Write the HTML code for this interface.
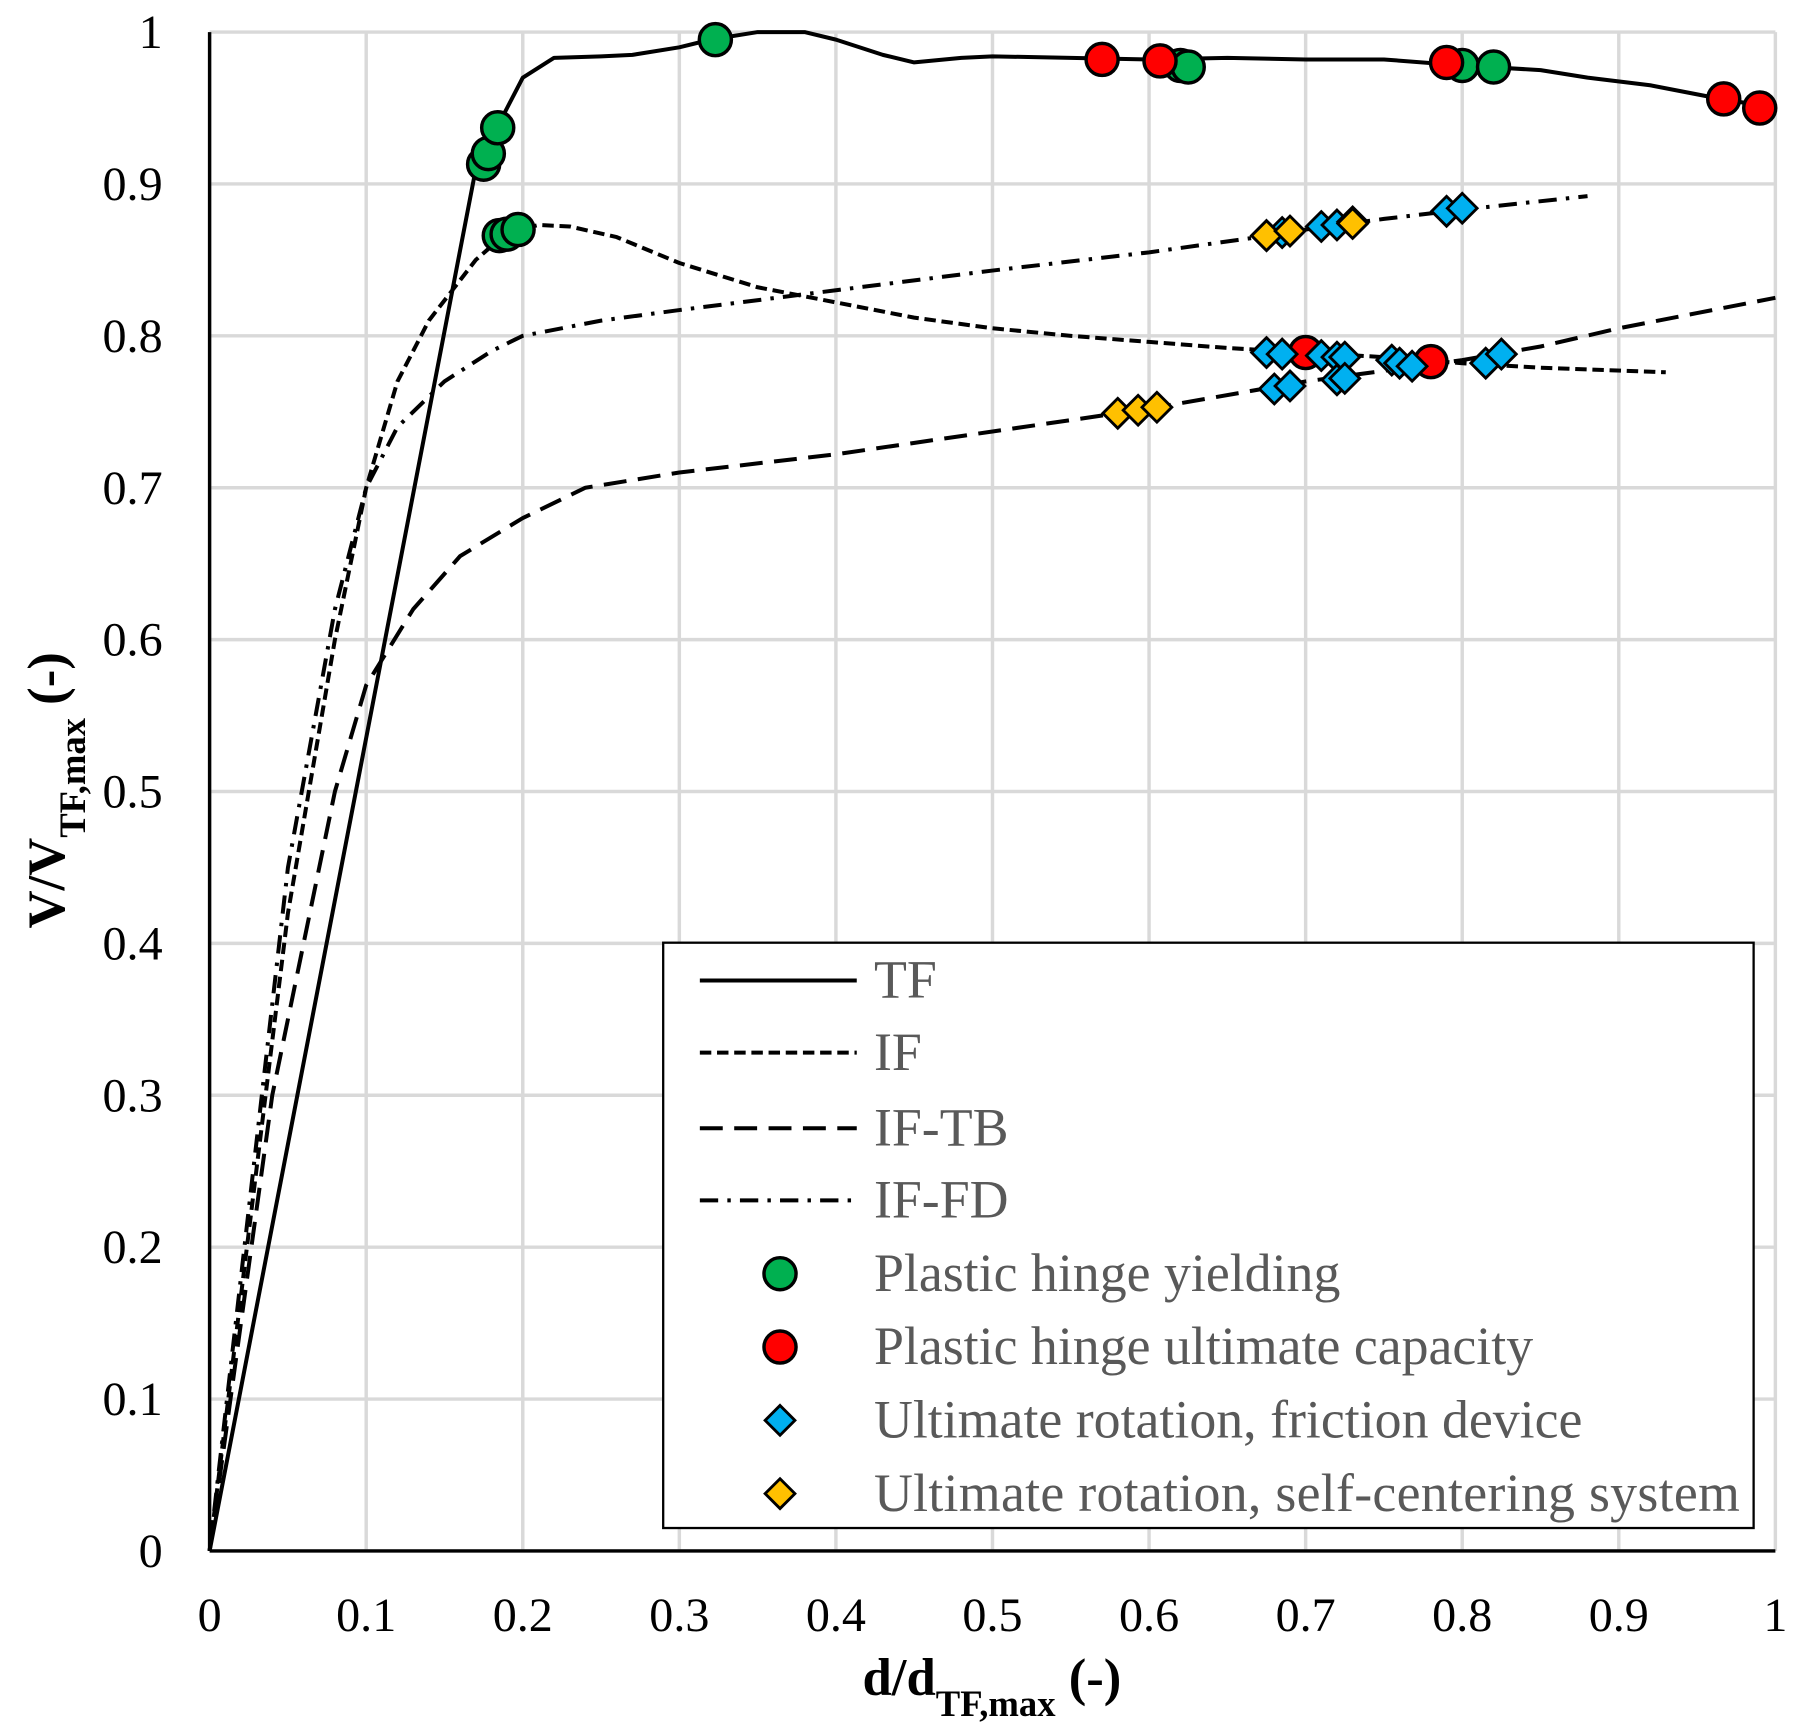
<!DOCTYPE html>
<html><head><meta charset="utf-8"><style>
html,body{margin:0;padding:0;background:#fff}
svg{display:block}
text{font-family:"Liberation Serif",serif}
</style></head><body>
<svg id="chart" width="1796" height="1735" viewBox="0 0 1568 1514.7" preserveAspectRatio="none" xmlns="http://www.w3.org/2000/svg">
<g id="grid"></g>
<g id="series"></g>
<g id="markers"></g>
<g id="axes"></g>
<g id="legend">
<rect x="579" y="823" width="952" height="511" fill="#fff" stroke="#000" stroke-width="2"/>
</g>
</svg>
<script>
const xTicks=[0,0.1,0.2,0.3,0.4,0.5,0.6,0.7,0.8,0.9,1];
const yTicks=[0,0.1,0.2,0.3,0.4,0.5,0.6,0.7,0.8,0.9,1];
const tfX=[0,0.17,0.19,0.2,0.22,0.25,0.27,0.3,0.32,0.35,0.38,0.4,0.43,0.45,0.48,0.5,0.55,0.6,0.65,0.7,0.75,0.8,0.85,0.88,0.92,0.96,1.0];
const tfY=[0,0.91,0.95,0.97,0.983,0.984,0.985,0.99,0.995,1.0,1.0,0.995,0.985,0.98,0.983,0.984,0.983,0.982,0.983,0.982,0.982,0.978,0.975,0.97,0.965,0.957,0.95];
const ifX=[0,0.05,0.08,0.1,0.12,0.14,0.17,0.19,0.21,0.23,0.26,0.3,0.35,0.4,0.45,0.5,0.55,0.6,0.65,0.7,0.75,0.8,0.85,0.93];
const ifY=[0,0.42,0.6,0.7,0.77,0.81,0.85,0.868,0.873,0.872,0.865,0.848,0.832,0.822,0.812,0.805,0.8,0.796,0.792,0.789,0.786,0.782,0.779,0.776];
const tbX=[0,0.04,0.08,0.1,0.13,0.16,0.2,0.24,0.3,0.4,0.5,0.6,0.7,0.8,0.85,0.9,0.95,1.0];
const tbY=[0,0.3,0.5,0.57,0.62,0.655,0.68,0.7,0.71,0.722,0.737,0.752,0.77,0.784,0.793,0.805,0.815,0.825];
const fdX=[0,0.05,0.08,0.1,0.12,0.15,0.18,0.2,0.25,0.3,0.4,0.5,0.6,0.67,0.7,0.75,0.8,0.88];
const fdY=[0,0.45,0.62,0.7,0.74,0.77,0.79,0.8,0.81,0.817,0.83,0.843,0.855,0.865,0.87,0.877,0.883,0.892];
const greenX=[0.175,0.178,0.184,0.323,0.62,0.625,0.8,0.82,0.185,0.19,0.197];
const greenY=[0.913,0.92,0.937,0.995,0.978,0.977,0.978,0.977,0.866,0.867,0.87];
const redX=[0.57,0.607,0.79,0.967,0.99,0.7,0.78];
const redY=[0.982,0.981,0.98,0.956,0.95,0.789,0.783];
const blueX=[0.675,0.685,0.71,0.72,0.725,0.755,0.76,0.768,0.815,0.825,0.68,0.69,0.72,0.725,0.675,0.685,0.71,0.72,0.73,0.79,0.8];
const blueY=[0.789,0.788,0.787,0.786,0.786,0.784,0.782,0.78,0.782,0.788,0.765,0.767,0.771,0.772,0.866,0.868,0.872,0.873,0.875,0.882,0.884];
const yellowX=[0.58,0.593,0.605,0.675,0.69,0.73];
const yellowY=[0.749,0.751,0.753,0.866,0.869,0.874];
const tickLabels=["0","0.1","0.2","0.3","0.4","0.5","0.6","0.7","0.8","0.9","1"];

const NS="http://www.w3.org/2000/svg";
const X0=183,X1=1550,Y0=1354,Y1=28;
const sx=v=>X0+(X1-X0)*v, sy=v=>Y0-(Y0-Y1)*v;
function mk(tag,attrs,parent,txt){const e=document.createElementNS(NS,tag);for(const k in attrs)e.setAttribute(k,attrs[k]);if(txt!==undefined)e.textContent=txt;parent.appendChild(e);return e;}
const grid=document.getElementById('grid'),axes=document.getElementById('axes'),series=document.getElementById('series'),markers=document.getElementById('markers'),legend=document.getElementById('legend');
xTicks.forEach((t,i)=>{
  const l=mk('line',{x1:sx(t),x2:sx(t),y1:Y1,y2:Y0,stroke:'#d9d9d9','stroke-width':3},grid);
  
  
  const tx=mk('text',{x:sx(t),y:1424,'text-anchor':'middle','font-size':42},axes,tickLabels[i]);
  
  
});
yTicks.forEach((t,i)=>{
  const l=mk('line',{x1:X0,x2:X1,y1:sy(t),y2:sy(t),stroke:'#d9d9d9','stroke-width':3},grid);
  
  
  const tx=mk('text',{x:142,y:sy(t)+14,'text-anchor':'end','font-size':42},axes,tickLabels[i]);
  
  
});
const ya=mk('line',{x1:X0,x2:X0,y1:Y1,y2:Y0,stroke:'#000','stroke-width':3},axes);


const xa=mk('line',{x1:X0,x2:X1,y1:Y0,y2:Y0,stroke:'#000','stroke-width':3},axes);


const xt=mk('text',{x:866,y:1480,'text-anchor':'middle','font-size':46,'font-weight':'bold'},axes);
xt.innerHTML='d/d<tspan baseline-shift="sub" font-size="32">TF,max</tspan> (-)';


const yt=mk('text',{x:0,y:0,'text-anchor':'middle','font-size':46,'font-weight':'bold',transform:'translate(56,690) rotate(-90)'},axes);
yt.innerHTML='V/V<tspan baseline-shift="sub" font-size="32">TF,max</tspan> (-)';



const styles=[
 {x:tfX,y:tfY,dash:'none',name:'TF'},
 {x:ifX,y:ifY,dash:'10 5',name:'IF'},
 {x:tbX,y:tbY,dash:'20 10',name:'IF-TB'},
 {x:fdX,y:fdY,dash:'16 8 3 8',name:'IF-FD'}];
styles.forEach(s=>{
  const d=s.x.map((v,i)=>(i?'L':'M')+sx(v).toFixed(1)+','+sy(s.y[i]).toFixed(1)).join(' ');
  const p=mk('path',{d:d,fill:'none',stroke:'#000','stroke-width':3.5,'stroke-dasharray':s.dash,'stroke-linejoin':'round'},series);
  
  
});
function circ(cx,cy,fill,parent){return mk('circle',{cx:cx,cy:cy,r:14,fill:fill,stroke:'#000','stroke-width':3},parent);}
function diam(cx,cy,fill,parent){const h=13;return mk('polygon',{points:`${cx},${cy-h} ${cx+h},${cy} ${cx},${cy+h} ${cx-h},${cy}`,fill:fill,stroke:'#000','stroke-width':2.5},parent);}
greenX.forEach((v,i)=>{const e=circ(sx(v),sy(greenY[i]),'#00b050',markers);
  
  });
redX.forEach((v,i)=>{const e=circ(sx(v),sy(redY[i]),'#ff0000',markers);
  
  });
blueX.forEach((v,i)=>{const e=diam(sx(v),sy(blueY[i]),'#00b0f0',markers);
  
  });
yellowX.forEach((v,i)=>{const e=diam(sx(v),sy(yellowY[i]),'#ffc000',markers);
  
  });

const legY=[856,919,985,1048,1112,1176,1240,1304];
const legLabels=['TF','IF','IF-TB','IF-FD','Plastic hinge yielding','Plastic hinge ultimate capacity','Ultimate rotation, friction device','Ultimate rotation, self-centering system'];
legLabels.forEach((lab,i)=>{
  const y=legY[i];
  let sym;
  if(i<4){sym=mk('line',{x1:611,x2:748,y1:y,y2:y,stroke:'#000','stroke-width':3.5,'stroke-dasharray':styles[i].dash},legend);}
  else if(i==4) sym=circ(681,y,'#00b050',legend);
  else if(i==5) sym=circ(681,y,'#ff0000',legend);
  else if(i==6) sym=diam(681,y,'#00b0f0',legend);
  else sym=diam(681,y,'#ffc000',legend);
  
  
  const t=mk('text',{x:763,y:y+15,'font-size':47,fill:'#595959',textLength:(i==7?756:null)},legend,lab);
  if(i!=7) t.removeAttribute('textLength');
  
  
});
</script>
</body></html>
